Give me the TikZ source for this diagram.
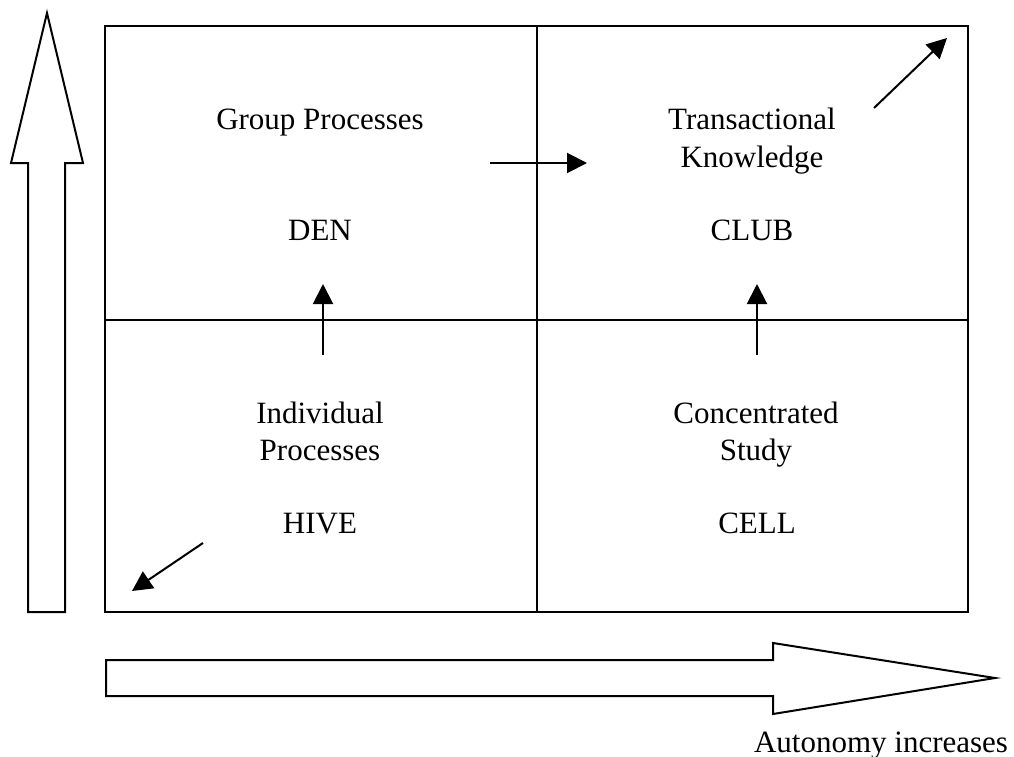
\documentclass[tikz,border=0pt]{standalone}
\usepackage{fontspec}
\setmainfont{Liberation Serif}
\usepackage{tikz}
\usetikzlibrary{arrows.meta, positioning, calc}
\tikzset{
    rotulo/.style = {font=\fontsize{31}{37}\selectfont, align=center, inner sep=0pt, anchor=base},
    grade/.style  = {line width=2.6pt, black},
    bloco/.style  = {line width=2pt, black, fill=white, line join=miter},
    seta/.style   = {-{Triangle[length=20pt, width=20pt]}, line width=2pt, black},
}

\begin{document}
\begin{tikzpicture}[x=1pt, y=-1pt]
    \useasboundingbox (0,0) rectangle (1014,757);
    % grade 2x2
    \draw[grade] (105,26) rectangle (968,612);
    \draw[grade] (537,26) -- (537,612);
    \draw[grade] (105,320) -- (968,320);
    % setas grandes
    \draw[bloco] (28,612) -- (28,163) -- (11,163) -- (47,13) -- (83,163)
        -- (65,163) -- (65,612) -- cycle;
    \draw[bloco] (106,660) -- (773,660) -- (773,643) -- (995,678) -- (773,714)
        -- (773,696) -- (106,696) -- cycle;
    % textos (base = ultima linha)
    \node[rotulo] (den)  at (320,240) {DEN};
    \node[rotulo] (grp)  at (320,130) {Group Processes};
    \node[rotulo] (club) at (752,240) {CLUB};
    \node[rotulo] (trn)  at (752,167) {Transactional\\Knowledge};
    \node[rotulo] (hive) at (320,533) {HIVE};
    \node[rotulo] (ind)  at (320,460) {Individual\\Processes};
    \node[rotulo] (cell) at (757,533) {CELL};
    \node[rotulo] (cst)  at (756,460) {Concentrated\\Study};
    \node[rotulo] (aut)  at (881,752) {Autonomy increases};
    % setas pequenas
    \coordinate (h0) at (490,163);  \coordinate (h1) at (587,163);
    \coordinate (d0) at (323,355);  \coordinate (d1) at (323,284);
    \coordinate (c0) at (757,355);  \coordinate (c1) at (757,284);
    \coordinate (t0) at (874,108);  \coordinate (t1) at (947,38);
    \coordinate (b0) at (203,543);  \coordinate (b1) at (132,591);
    \draw[seta] (h0) -- (h1);
    \draw[seta] (d0) -- (d1);
    \draw[seta] (c0) -- (c1);
    \draw[seta] (t0) -- (t1);
    \draw[seta] (b0) -- (b1);
\end{tikzpicture}
\end{document}
